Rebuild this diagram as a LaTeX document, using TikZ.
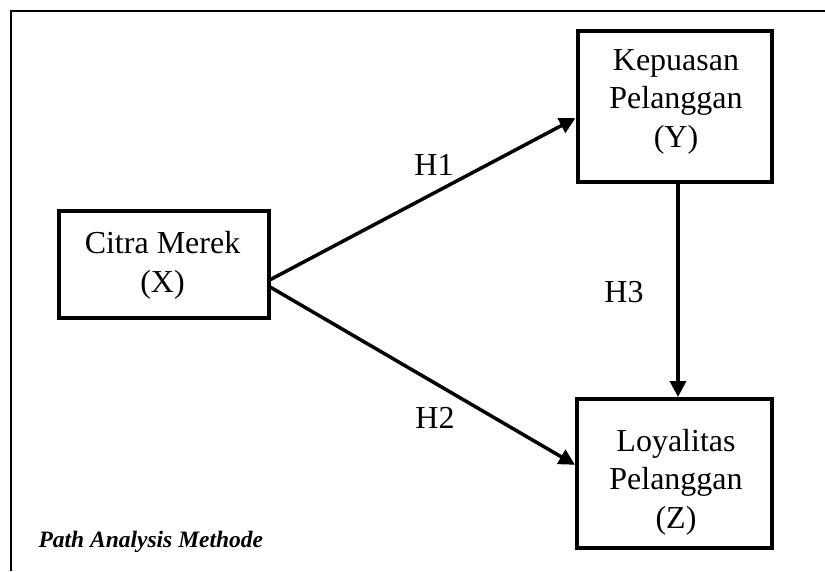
\documentclass[tikz,border=0pt]{standalone}
\usepackage{fontspec}
\setmainfont{Liberation Serif}
\usetikzlibrary{arrows.meta,positioning}

\begin{document}
\begin{tikzpicture}[x=1pt,y=-1pt]
	\tikzset{var/.style={draw,line width=4pt,inner sep=0pt},
		vartext/.style={align=center,anchor=base,font=\fontsize{32}{38.5}\selectfont},
		hyp/.style={anchor=base,font=\fontsize{32}{38.5}\selectfont},
		>={Triangle[length=16pt,width=16pt]}}
	\useasboundingbox (0,0) rectangle (825,571);

	%% frame
	\draw[line width=2pt] (11,571) -- (11,11) -- (825,11);

	\node[var,minimum width=210,minimum height=107] (citra) at (163.5,264.5) {};
	\node[var,minimum width=194,minimum height=151] (kepuasan) at (674.5,106) {};
	\node[var,minimum width=195,minimum height=149] (loyalitas) at (674.5,473.5) {};

	%% last line sits on the base anchor
	\node[vartext] (citratext) at (162.5,292) {Citra Merek\\(X)};
	\node[vartext] (kepuasantext) at (676,147) {Kepuasan\\Pelanggan\\(Y)};
	\node[vartext] (loyalitastext) at (676,528) {Loyalitas\\Pelanggan\\(Z)};

	\path[->,line width=3.5pt]
		(citra.-8.5) edge node {} (kepuasan.187)
		(citra.-12.5) edge node {} (loyalitas.175)
		([xshift=3.5pt]kepuasan.south) edge node {} ([xshift=3.5pt]loyalitas.north);

	\node[hyp] (h1) at (434,175) {H1};
	\node[hyp] (h2) at (435,428) {H2};
	\node[hyp] (h3) at (624,302) {H3};

	\node[anchor=base west,font=\fontsize{23.5}{28}\selectfont\bfseries\itshape] (method) at (35,547) {Path Analysis Methode};
\end{tikzpicture}
\end{document}
